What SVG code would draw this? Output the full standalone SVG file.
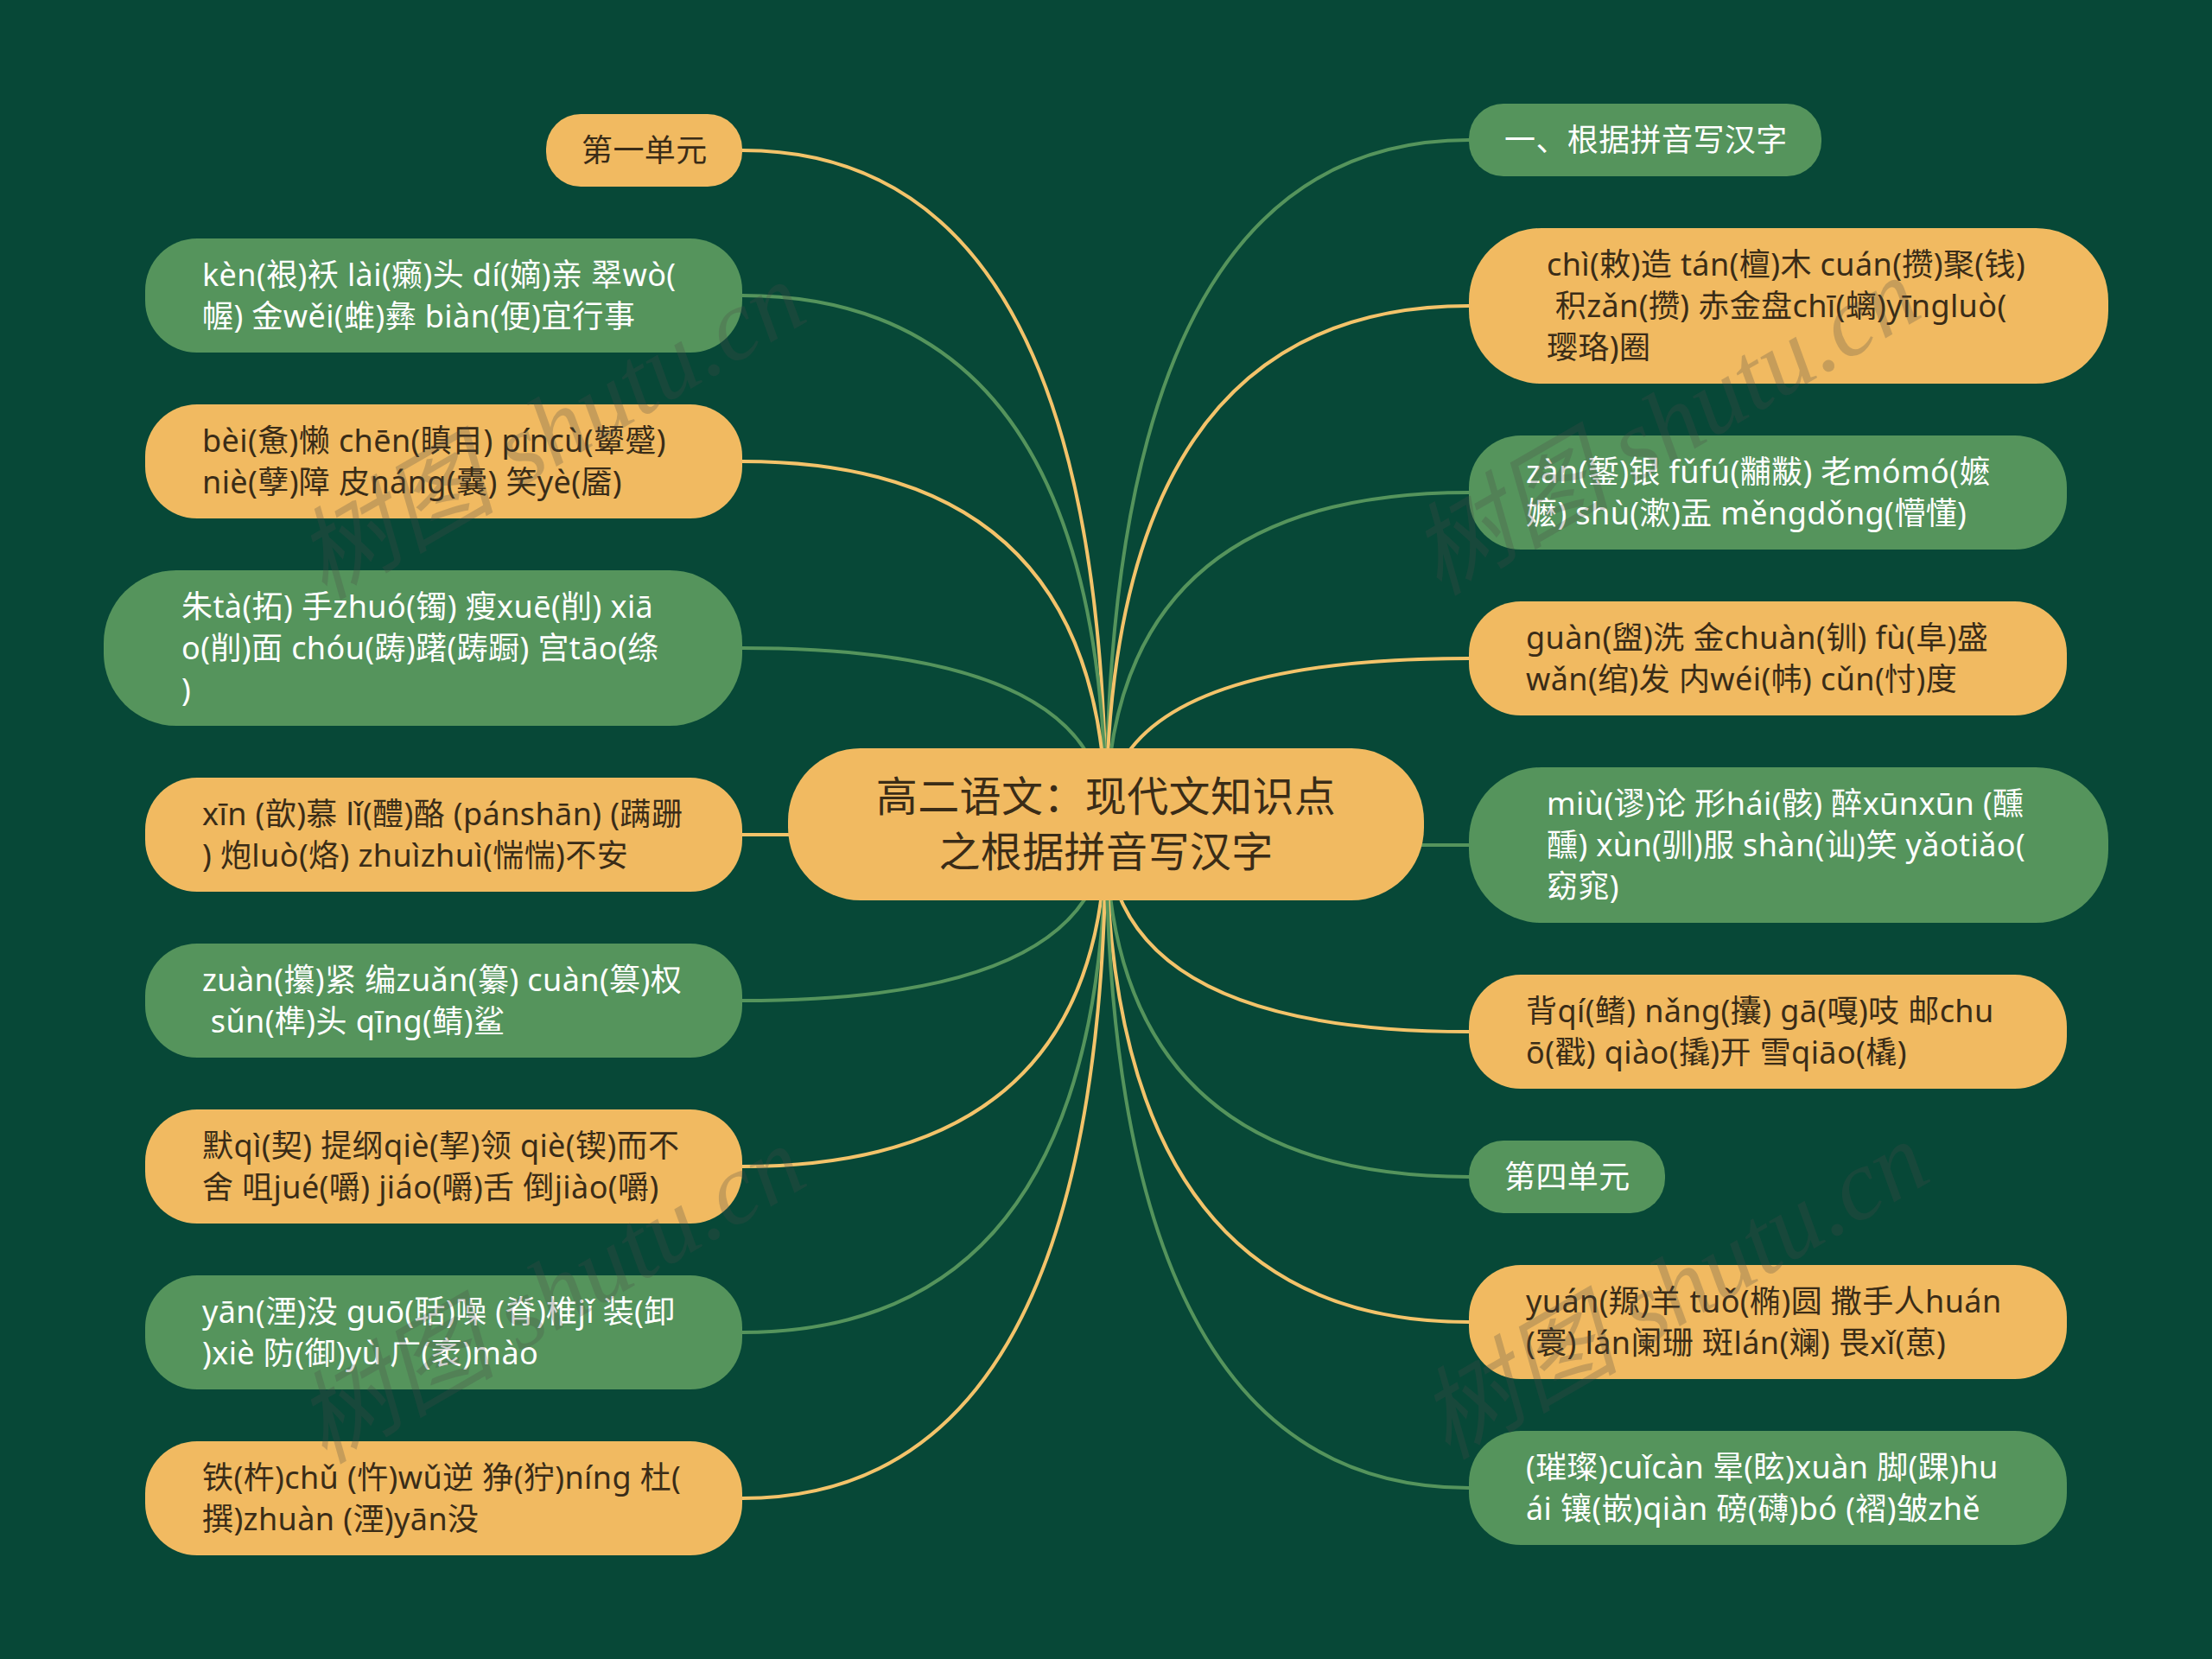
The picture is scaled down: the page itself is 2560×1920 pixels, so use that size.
<svg xmlns="http://www.w3.org/2000/svg" width="2560" height="1920" viewBox="0 0 2560 1920">
<style>
text{font-family:"Noto Sans","Noto Sans CJK SC",sans-serif;font-size:36px;white-space:pre;letter-spacing:.4px}
.y{fill:#f1ba61}.g{fill:#55945c}
.ty{fill:#3a2c17}.tg{fill:#ffffff}
.cy,.cg{fill:none;stroke-width:4}
.cy{stroke:#f3c36a}.cg{stroke:#55945c}
.wm{font-family:"Liberation Serif","Noto Sans CJK SC",serif;font-style:italic;font-size:116px;fill:#4a4a48;opacity:.25;letter-spacing:0}
</style>
<rect width="2560" height="1920" fill="#074837"/>
<g id="connectors">
<path class="cy" d="M859,174Q1280,174 1280,954"/>
<path class="cg" d="M859,342Q1280,342 1280,954"/>
<path class="cy" d="M859,534Q1280,534 1280,954"/>
<path class="cg" d="M859,750Q1280,750 1280,954"/>
<path class="cy" d="M859,966L1280,966"/>
<path class="cg" d="M859,1158Q1280,1158 1280,954"/>
<path class="cy" d="M859,1350Q1280,1350 1280,954"/>
<path class="cg" d="M859,1542Q1280,1542 1280,954"/>
<path class="cy" d="M859,1734Q1280,1734 1280,954"/>
<path class="cg" d="M1700,162Q1280,162 1280,954"/>
<path class="cy" d="M1700,354Q1280,354 1280,954"/>
<path class="cg" d="M1700,570Q1280,570 1280,954"/>
<path class="cy" d="M1700,762Q1280,762 1280,954"/>
<path class="cg" d="M1700,978L1280,978"/>
<path class="cy" d="M1700,1194Q1280,1194 1280,954"/>
<path class="cg" d="M1700,1362Q1280,1362 1280,954"/>
<path class="cy" d="M1700,1530Q1280,1530 1280,954"/>
<path class="cg" d="M1700,1722Q1280,1722 1280,954"/>
</g>
<g id="center"><rect class="y" x="912" y="866" width="736" height="176" rx="84" ry="84"/>
<text class="ty" style="font-size:48px" text-anchor="middle"><tspan x="1280" y="939">高二语文：现代文知识点</tspan><tspan x="1280" y="1003">之根据拼音写汉字</tspan></text></g>
<g id="l1"><rect class="y" x="632" y="132" width="227" height="84" rx="40"/><text class="ty"><tspan x="673" y="187">第一单元</tspan></text></g>
<g id="l2"><rect class="g" x="168" y="276" width="691" height="132" rx="60"/><text class="tg"><tspan x="234" y="331">kèn(裉)袄 lài(癞)头 dí(嫡)亲 翠wò(</tspan><tspan x="234" y="379">幄) 金wěi(蜼)彝 biàn(便)宜行事</tspan></text></g>
<g id="l3"><rect class="y" x="168" y="468" width="691" height="132" rx="60"/><text class="ty"><tspan x="234" y="523">bèi(惫)懒 chēn(瞋目) píncù(颦蹙)</tspan><tspan x="234" y="571">niè(孽)障 皮náng(囊) 笑yè(靥)</tspan></text></g>
<g id="l4"><rect class="g" x="120" y="660" width="739" height="180" rx="84"/><text class="tg"><tspan x="210" y="715">朱tà(拓) 手zhuó(镯) 瘦xuē(削) xiā</tspan><tspan x="210" y="763">o(削)面 chóu(踌)躇(踌蹰) 宫tāo(绦</tspan><tspan x="210" y="811">)</tspan></text></g>
<g id="l5"><rect class="y" x="168" y="900" width="691" height="132" rx="60"/><text class="ty"><tspan x="234" y="955">xīn (歆)慕 lǐ(醴)酪 (pánshān) (蹒跚</tspan><tspan x="234" y="1003">) 炮luò(烙) zhuìzhuì(惴惴)不安</tspan></text></g>
<g id="l6"><rect class="g" x="168" y="1092" width="691" height="132" rx="60"/><text class="tg"><tspan x="234" y="1147">zuàn(攥)紧 编zuǎn(纂) cuàn(篡)权</tspan><tspan x="234" y="1195"> sǔn(榫)头 qīng(鲭)鲨</tspan></text></g>
<g id="l7"><rect class="y" x="168" y="1284" width="691" height="132" rx="60"/><text class="ty"><tspan x="234" y="1339">默qì(契) 提纲qiè(挈)领 qiè(锲)而不</tspan><tspan x="234" y="1387">舍 咀jué(嚼) jiáo(嚼)舌 倒jiào(嚼)</tspan></text></g>
<g id="l8"><rect class="g" x="168" y="1476" width="691" height="132" rx="60"/><text class="tg"><tspan x="234" y="1531">yān(湮)没 guō(聒)噪 (脊)椎jǐ 装(卸</tspan><tspan x="234" y="1579">)xiè 防(御)yù 广(袤)mào</tspan></text></g>
<g id="l9"><rect class="y" x="168" y="1668" width="691" height="132" rx="60"/><text class="ty"><tspan x="234" y="1723">铁(杵)chǔ (忤)wǔ逆 狰(狞)níng 杜(</tspan><tspan x="234" y="1771">撰)zhuàn (湮)yān没</tspan></text></g>
<g id="r1"><rect class="g" x="1700" y="120" width="408" height="84" rx="40"/><text class="tg"><tspan x="1741" y="175">一、根据拼音写汉字</tspan></text></g>
<g id="r2"><rect class="y" x="1700" y="264" width="740" height="180" rx="84"/><text class="ty"><tspan x="1790" y="319">chì(敕)造 tán(檀)木 cuán(攒)聚(钱)</tspan><tspan x="1790" y="367"> 积zǎn(攒) 赤金盘chī(螭)yīngluò(</tspan><tspan x="1790" y="415">璎珞)圈</tspan></text></g>
<g id="r3"><rect class="g" x="1700" y="504" width="692" height="132" rx="60"/><text class="tg"><tspan x="1766" y="559">zàn(錾)银 fǔfú(黼黻) 老mómó(嬷</tspan><tspan x="1766" y="607">嬷) shù(漱)盂 měngdǒng(懵懂)</tspan></text></g>
<g id="r4"><rect class="y" x="1700" y="696" width="692" height="132" rx="60"/><text class="ty"><tspan x="1766" y="751">guàn(盥)洗 金chuàn(钏) fù(阜)盛</tspan><tspan x="1766" y="799">wǎn(绾)发 内wéi(帏) cǔn(忖)度</tspan></text></g>
<g id="r5"><rect class="g" x="1700" y="888" width="740" height="180" rx="84"/><text class="tg"><tspan x="1790" y="943">miù(谬)论 形hái(骸) 醉xūnxūn (醺</tspan><tspan x="1790" y="991">醺) xùn(驯)服 shàn(讪)笑 yǎotiǎo(</tspan><tspan x="1790" y="1039">窈窕)</tspan></text></g>
<g id="r6"><rect class="y" x="1700" y="1128" width="692" height="132" rx="60"/><text class="ty"><tspan x="1766" y="1183">背qí(鳍) nǎng(攮) gā(嘎)吱 邮chu</tspan><tspan x="1766" y="1231">ō(戳) qiào(撬)开 雪qiāo(橇)</tspan></text></g>
<g id="r7"><rect class="g" x="1700" y="1320" width="227" height="84" rx="40"/><text class="tg"><tspan x="1741" y="1375">第四单元</tspan></text></g>
<g id="r8"><rect class="y" x="1700" y="1464" width="692" height="132" rx="60"/><text class="ty"><tspan x="1766" y="1519">yuán(羱)羊 tuǒ(椭)圆 撒手人huán</tspan><tspan x="1766" y="1567">(寰) lán阑珊 斑lán(斓) 畏xǐ(葸)</tspan></text></g>
<g id="r9"><rect class="g" x="1700" y="1656" width="692" height="132" rx="60"/><text class="tg"><tspan x="1766" y="1711">(璀璨)cuǐcàn 晕(眩)xuàn 脚(踝)hu</tspan><tspan x="1766" y="1759">ái 镶(嵌)qiàn 磅(礴)bó (褶)皱zhě</tspan></text></g>
<g id="watermarks">
<text class="wm" transform="translate(375,695) rotate(-30)">树图 shutu.cn</text>
<text class="wm" transform="translate(1665,690) rotate(-30)">树图 shutu.cn</text>
<text class="wm" transform="translate(375,1695) rotate(-30)">树图 shutu.cn</text>
<text class="wm" transform="translate(1675,1690) rotate(-30)">树图 shutu.cn</text>
</g>
</svg>
